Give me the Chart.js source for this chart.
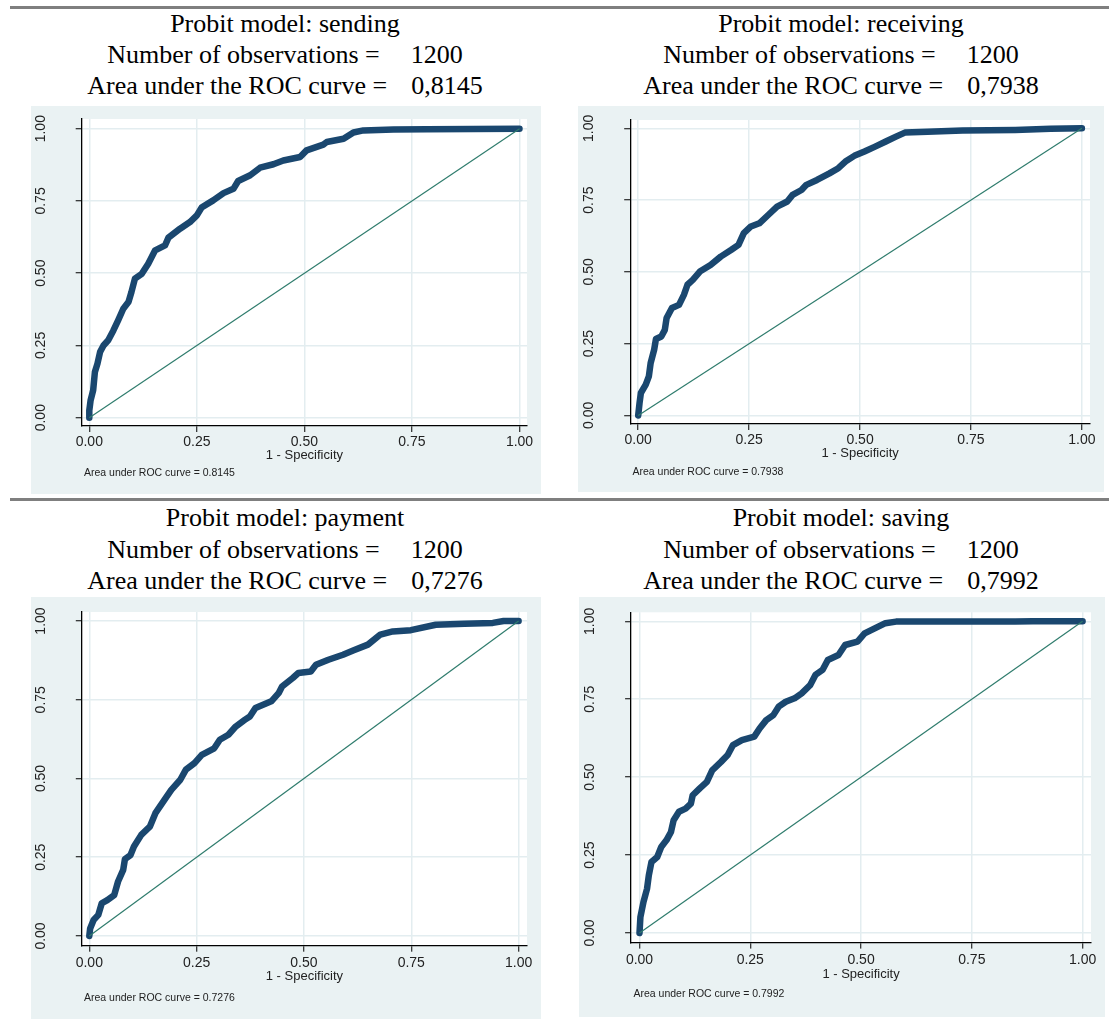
<!DOCTYPE html>
<html>
<head>
<meta charset="utf-8">
<script src="https://cdn.jsdelivr.net/npm/chart.js@4.4.1/dist/chart.umd.min.js"></script>
<style>
  html, body { margin: 0; padding: 0; background: #ffffff; }
  body { width: 1109px; height: 1019px; position: relative; overflow: hidden; }
  .rule { position: absolute; left: 10px; right: 0; height: 3px; background: #7f7f7f; }
  .title { position: absolute; width: 600px; text-align: center; font-family: "Liberation Serif", "Times New Roman", serif;
           font-size: 26px; line-height: 31.25px; color: #000; white-space: pre; }
  .gap2 { display: inline-block; width: 31px; }
  .gap3 { display: inline-block; width: 24px; }
  .panel { position: absolute; }
  .note { position: absolute; font-family: "Liberation Sans", Arial, sans-serif; font-size: 10.5px; color: #222; line-height: 12px; white-space: pre; }
</style>
</head>
<body>
<script>
// ---------------- data ----------------
const panelNames = ["sending", "receiving", "payment", "saving"];
const observations = [1200, 1200, 1200, 1200];
const aucComma = ["0,8145", "0,7938", "0,7276", "0,7992"];
const aucDot = ["0.8145", "0.7938", "0.7276", "0.7992"];
const tickValues = [0, 0.25, 0.5, 0.75, 1];
const xAxisTitle = "1 - Specificity";

const sendingX = [0,0.0,0.003,0.009,0.013,0.019,0.025,0.033,0.044,0.056,0.067,0.079,0.091,0.098,0.106,0.122,0.137,0.153,0.176,0.184,0.211,0.234,0.25,0.261,0.288,0.312,0.335,0.346,0.374,0.397,0.428,0.451,0.49,0.505,0.544,0.552,0.591,0.614,0.637,0.707,0.784,1];
const sendingY = [0,0.025,0.06,0.095,0.158,0.187,0.227,0.25,0.268,0.302,0.337,0.377,0.4,0.435,0.481,0.498,0.533,0.579,0.596,0.623,0.654,0.677,0.7,0.727,0.752,0.777,0.792,0.819,0.839,0.865,0.877,0.89,0.902,0.925,0.945,0.954,0.965,0.987,0.994,0.997,0.998,1];

const receivingX = [0,0.003,0.006,0.017,0.024,0.028,0.036,0.04,0.052,0.06,0.064,0.076,0.092,0.103,0.111,0.123,0.139,0.163,0.186,0.21,0.226,0.238,0.254,0.273,0.293,0.313,0.336,0.348,0.368,0.379,0.403,0.431,0.451,0.467,0.487,0.51,0.534,0.558,0.581,0.601,0.652,0.731,0.85,0.929,1];
const receivingY = [0,0.043,0.078,0.107,0.136,0.182,0.229,0.266,0.275,0.298,0.339,0.374,0.385,0.42,0.455,0.472,0.501,0.524,0.553,0.577,0.594,0.635,0.658,0.669,0.698,0.727,0.745,0.768,0.785,0.803,0.82,0.843,0.861,0.884,0.904,0.919,0.936,0.954,0.971,0.985,0.988,0.992,0.994,0.998,1];

const paymentX = [0,0.002,0.01,0.021,0.029,0.042,0.058,0.067,0.079,0.083,0.096,0.104,0.121,0.141,0.154,0.175,0.191,0.212,0.225,0.245,0.262,0.291,0.304,0.324,0.341,0.362,0.374,0.387,0.424,0.441,0.449,0.474,0.487,0.516,0.528,0.557,0.591,0.616,0.649,0.678,0.707,0.749,0.807,0.874,0.94,0.965,1];
const paymentY = [0,0.024,0.051,0.067,0.104,0.114,0.13,0.173,0.21,0.244,0.257,0.284,0.321,0.347,0.39,0.432,0.464,0.496,0.528,0.549,0.575,0.596,0.623,0.639,0.665,0.686,0.697,0.724,0.745,0.771,0.792,0.819,0.835,0.84,0.861,0.877,0.893,0.907,0.925,0.957,0.967,0.971,0.988,0.991,0.994,1,1];

const savingX = [0,0.002,0.009,0.017,0.021,0.027,0.04,0.049,0.061,0.071,0.077,0.089,0.104,0.116,0.12,0.136,0.152,0.164,0.184,0.199,0.211,0.231,0.259,0.271,0.286,0.302,0.314,0.33,0.35,0.366,0.385,0.397,0.413,0.425,0.449,0.464,0.492,0.508,0.532,0.555,0.579,0.848,0.888,1];
const savingY = [0,0.051,0.1,0.142,0.185,0.228,0.244,0.276,0.298,0.324,0.362,0.389,0.399,0.415,0.442,0.464,0.485,0.522,0.549,0.571,0.603,0.619,0.63,0.656,0.683,0.699,0.726,0.742,0.753,0.769,0.795,0.828,0.844,0.876,0.892,0.924,0.935,0.961,0.978,0.994,0.999,0.999,1,1];

const curvesX = [sendingX, receivingX, paymentX, savingX];
const curvesY = [sendingY, receivingY, paymentY, savingY];

// ---------------- layout (positions only) ----------------
const layouts = [
  { bg:[31,106,541,494],      axisX:81.7,  axisY:426,   plotTop:119,   plotRight:527,    x0:89.3,  x1:519.5,  y1:128.7, y0:417.7, tickC:442,   titleC:455.7, noteC:472,   noteL:84,    titleTop:7.6,   center:285,  ruleTop:6 },
  { bg:[578.2,106,1103.8,492.3], axisX:630.4, axisY:424.3, plotTop:120, plotRight:1089.8, x0:638.4, x1:1081.7, y1:128.3, y0:415.7, tickC:440.7, titleC:453.3, noteC:471,   noteL:632.5, titleTop:7.6,   center:841 },
  { bg:[31,597.3,541,1019],   axisX:81.8,  axisY:945.7, plotTop:612.3, plotRight:527,    x0:89.3,  x1:518.6,  y1:621.3, y0:936,   tickC:963,   titleC:976.7, noteC:996.7, noteL:84,    titleTop:502.3, center:285,  ruleTop:498 },
  { bg:[579.3,597,1104.8,1016.7], axisX:631.4, axisY:942.3, plotTop:612.3, plotRight:1090.8, x0:639.8, x1:1082.4, y1:621.3, y0:932.7, tickC:960, titleC:974.3, noteC:993.3, noteL:633.5, titleTop:502.3, center:841 }
];

const BG = '#eaf2f3';
const NAVY = '#1a476f';
const TEAL = '#2f7c6d';
const GRID = '#e3edf0';

const bgPlugin = {
  id: 'panelBg',
  beforeDraw(chart) {
    const { ctx, chartArea: a, width, height } = chart;
    ctx.save();
    ctx.fillStyle = BG;
    ctx.fillRect(0, 0, width, height);
    ctx.fillStyle = '#ffffff';
    ctx.fillRect(a.left, a.top, a.right - a.left, a.bottom - a.top);
    ctx.restore();
  }
};

function addDiv(cls, style, html) {
  const d = document.createElement('div');
  d.className = cls;
  Object.assign(d.style, style);
  if (html !== undefined) d.innerHTML = html;
  document.body.appendChild(d);
  return d;
}

layouts.forEach((L, i) => {
  if (L.ruleTop !== undefined) addDiv('rule', { top: L.ruleTop + 'px' });
  addDiv('title', { left: (L.center - 300) + 'px', top: L.titleTop + 'px' },
    'Probit model: ' + panelNames[i] + '\n' +
    'Number of observations =<span class="gap2"></span>' + observations[i] + '\n' +
    'Area under the ROC curve =<span class="gap3"></span>' + aucComma[i]);

  const [bl, bt, br, bb] = L.bg;
  const W = br - bl, H = bb - bt;
  const wrap = addDiv('panel', { left: bl + 'px', top: bt + 'px', width: W + 'px', height: H + 'px' });
  const cv = document.createElement('canvas');
  cv.width = Math.round(W); cv.height = Math.round(H);
  cv.style.width = Math.round(W) + 'px'; cv.style.height = Math.round(H) + 'px';
  wrap.appendChild(cv);

  const xpx = L.x1 - L.x0, ypx = L.y0 - L.y1;
  const xmin = -(L.x0 - L.axisX) / xpx, xmax = 1 + (L.plotRight - L.x1) / xpx;
  const ymax = 1 + (L.y1 - L.plotTop) / ypx, ymin = -(L.axisY - L.y0) / ypx;
  const tickLen = 6;
  const tickFont = { family: "'Liberation Sans', Arial, sans-serif", size: 14 };
  const titleFont = { family: "'Liberation Sans', Arial, sans-serif", size: 13 };

  const pts = curvesX[i].map((x, k) => ({ x: x, y: curvesY[i][k] }));

  new Chart(cv, {
    type: 'scatter',
    data: {
      datasets: [
        { data: [{x:0,y:0},{x:1,y:1}], showLine: true, borderColor: TEAL, borderWidth: 1.2, pointRadius: 0, order: 0 },
        { data: pts, showLine: true, borderColor: NAVY, backgroundColor: NAVY, borderWidth: 6.5, pointRadius: 0,
          borderCapStyle: 'round', borderJoinStyle: 'round', tension: 0, order: 1, clip: false }
      ]
    },
    options: {
      responsive: false,
      animation: false,
      devicePixelRatio: 1,
      layout: { padding: { left: 0, top: L.plotTop - bt, right: br - L.plotRight, bottom: 0 } },
      plugins: { legend: { display: false }, tooltip: { enabled: false }, title: { display: false } },
      scales: {
        x: {
          type: 'linear', min: xmin, max: xmax,
          afterBuildTicks: s => { s.ticks = tickValues.map(v => ({ value: v })); },
          afterFit: s => { s.height = bb - L.axisY; s.paddingLeft = 0; s.paddingRight = 0; },
          ticks: { callback: v => Number(v).toFixed(2), font: tickFont, color: '#222', padding: (L.tickC - L.axisY) - tickLen - 8.4, maxRotation: 0, minRotation: 0 },
          grid: { color: GRID, lineWidth: 1.5, tickColor: '#000', tickLength: tickLen, tickWidth: 1 },
          border: { display: true, color: '#000', width: 1.3 },
          title: { display: true, text: xAxisTitle, font: titleFont, color: '#222',
                   padding: { top: 0, bottom: (bb - L.titleC) - 7.8 } }
        },
        y: {
          type: 'linear', min: ymin, max: ymax,
          afterBuildTicks: s => { s.ticks = tickValues.map(v => ({ value: v })); },
          afterFit: s => { s.width = L.axisX - bl; s.paddingTop = 0; s.paddingBottom = 0; },
          ticks: { callback: v => Number(v).toFixed(2), font: tickFont, color: '#222', minRotation: 90, maxRotation: 90,
                   crossAlign: 'center', padding: 40.6 - tickLen - 13.6 },
          grid: { color: GRID, lineWidth: 1.5, tickColor: '#000', tickLength: tickLen, tickWidth: 1 },
          border: { display: true, color: '#000', width: 1.3 }
        }
      }
    },
    plugins: [bgPlugin]
  });

  addDiv('note', { left: L.noteL + 'px', top: (L.noteC - 6) + 'px' }, 'Area under ROC curve = ' + aucDot[i]);
});
</script>
</body>
</html>
